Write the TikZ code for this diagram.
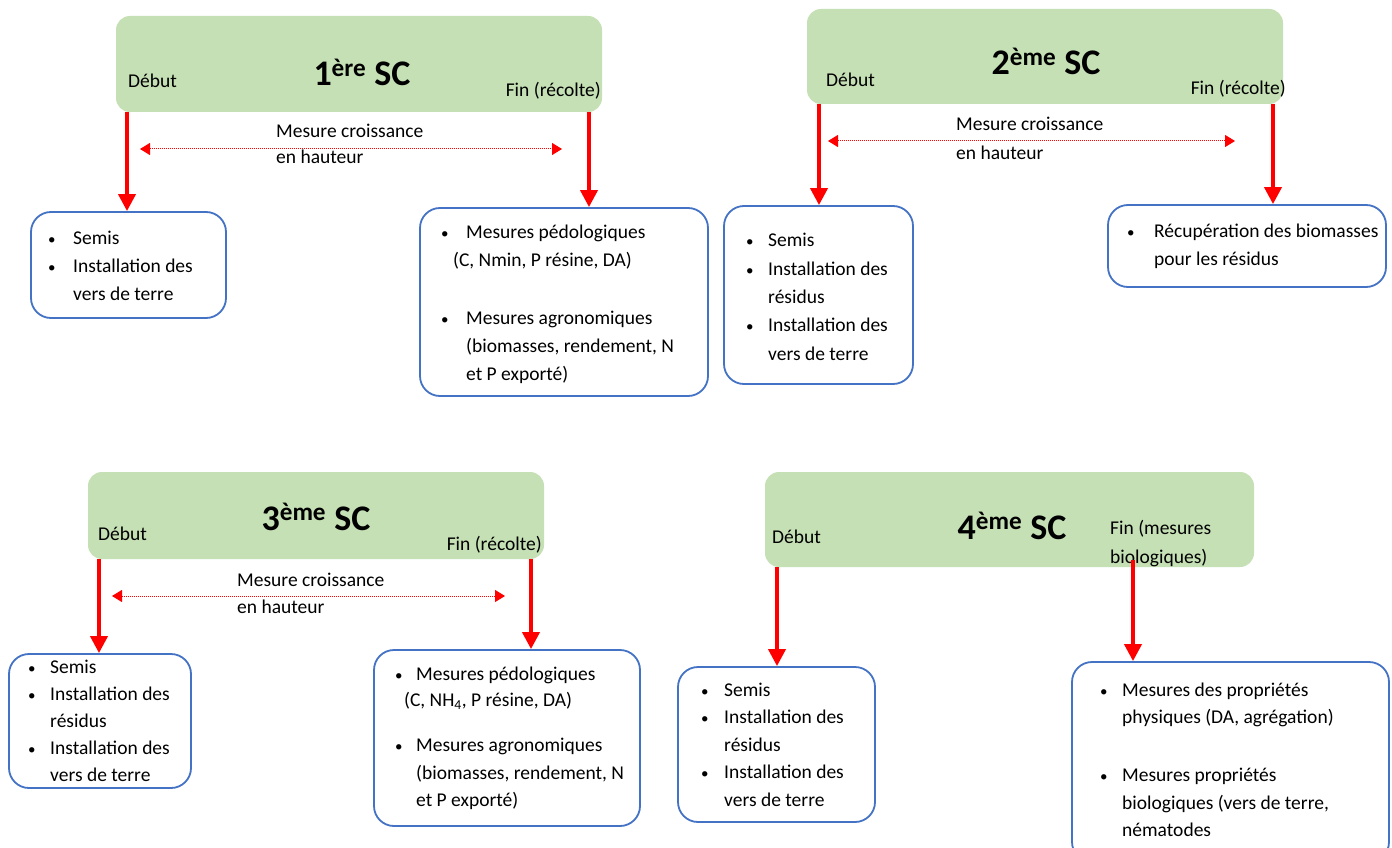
\documentclass[tikz,border=0pt]{standalone}
\usepackage{fontspec}
\setmainfont{Carlito}
\usetikzlibrary{arrows.meta}
\definecolor{sgreen}{HTML}{C5E0B4}
\definecolor{sblue}{HTML}{4472C4}
\definecolor{sred}{HTML}{FF0000}
\tikzset{
  greenbox/.style={fill=sgreen, rounded corners=14pt, inner sep=0pt, draw=none},
  bluebox/.style={draw=sblue, line width=1.8pt, rounded corners=20pt, fill=white, inner sep=0pt},
  redarrow/.style={draw=sred, line width=3.8pt, -{Triangle[width=17pt,length=17pt]}},
  dotarrow/.style={draw=sred, line width=1pt, dash pattern=on 1pt off 1pt, {Triangle[width=12pt,length=10pt]}-{Triangle[width=12pt,length=10pt]}},
  txt/.style={inner sep=0pt, anchor=base west, font=\fontsize{19.5}{23}\selectfont},
  bul/.style={inner sep=0pt, anchor=base west, font=\fontsize{15}{18}\selectfont},
  txte/.style={inner sep=0pt, anchor=base east, font=\fontsize{19.5}{23}\selectfont},
  ttl/.style={inner sep=0pt, anchor=base, font=\fontsize{36}{40}\selectfont\bfseries},
}
\begin{document}
\begin{tikzpicture}[x=1pt,y=-1pt]
\clip (0,0) rectangle (1392,848);
\fill[white] (0,0) rectangle (1392,848);

% ---------- Panel 1 ----------
\node[greenbox, minimum width=486, minimum height=96] (g1) at (359,64) {};
\node[ttl] (t1) at (362,86) {1\textsuperscript{ère} SC};
\node[txt] (d1) at (128,88) {Début};
\node[txte] (f1) at (601,97) {Fin (récolte)};
\node[bluebox, minimum width=195, minimum height=106] (b1) at (128.5,265) {};
\node[bluebox, minimum width=288, minimum height=188] (b2) at (564,302) {};
\coordinate (x1a) at (127,0);
\coordinate (x1b) at (589,0);
\draw[redarrow] (g1.south -| x1a) -- (b1.north -| x1a);
\draw[redarrow] (g1.south -| x1b) -- (b2.north -| x1b);
\coordinate (m1l) at (140,149);
\coordinate (m1r) at (562,149);
\draw[dotarrow] (m1l) -- (m1r);
\node[txt] (m1a) at (276,138) {Mesure croissance};
\node[txt] (m1b) at (276,164) {en hauteur};
\node[bul] (b1p1) at (48,244) {•};
\node[txt] (b1l1) at (73,244) {Semis};
\node[bul] (b1p2) at (48,272) {•};
\node[txt] (b1l2) at (73,272) {Installation des};
\node[txt] (b1l3) at (73,300) {vers de terre};
\node[bul] (b2p1) at (441,238) {•};
\node[txt] (b2l1) at (466,238) {Mesures pédologiques};
\node[txt] (b2l2) at (453,266) {(C, Nmin, P résine, DA)};
\node[bul] (b2p2) at (441,324) {•};
\node[txt] (b2l3) at (466,324) {Mesures agronomiques};
\node[txt] (b2l4) at (466,352) {(biomasses, rendement, N};
\node[txt] (b2l5) at (466,380) {et P exporté)};

% ---------- Panel 2 ----------
\node[greenbox, minimum width=476, minimum height=95] (g2) at (1045,56.5) {};
\node[ttl] (t2) at (1046,75) {2\textsuperscript{ème} SC};
\node[txt] (d2) at (826,87) {Début};
\node[txte] (f2) at (1286,95) {Fin (récolte)};
\node[bluebox, minimum width=189, minimum height=178] (b3) at (818.5,295) {};
\node[bluebox, minimum width=278, minimum height=82] (b4) at (1247,246) {};
\coordinate (x2a) at (819,0);
\coordinate (x2b) at (1273,0);
\draw[redarrow] (g2.south -| x2a) -- (b3.north -| x2a);
\draw[redarrow] (g2.south -| x2b) -- (b4.north -| x2b);
\coordinate (m2l) at (828,141);
\coordinate (m2r) at (1235,141);
\draw[dotarrow] (m2l) -- (m2r);
\node[txt] (m2a) at (956,131) {Mesure croissance};
\node[txt] (m2b) at (956,160) {en hauteur};
\node[bul] (b3p1) at (746,246) {•};
\node[txt] (b3l1) at (768,246) {Semis};
\node[bul] (b3p2) at (746,275) {•};
\node[txt] (b3l2) at (768,275) {Installation des};
\node[txt] (b3l3) at (768,303) {résidus};
\node[bul] (b3p3) at (746,331) {•};
\node[txt] (b3l4) at (768,331) {Installation des};
\node[txt] (b3l5) at (768,360) {vers de terre};
\node[bul] (b4p1) at (1127,237) {•};
\node[txt] (b4l1) at (1154,237) {Récupération des biomasses};
\node[txt] (b4l2) at (1154,265) {pour les résidus};

% ---------- Panel 3 ----------
\node[greenbox, minimum width=456, minimum height=87] (g3) at (316,515.5) {};
\node[ttl] (t3) at (316,530) {3\textsuperscript{ème} SC};
\node[txt] (d3) at (98,540) {Début};
\node[txte] (f3) at (542,550) {Fin (récolte)};
\node[bluebox, minimum width=182, minimum height=134] (b5) at (100,721) {};
\node[bluebox, minimum width=266, minimum height=176] (b6) at (507,738) {};
\coordinate (x3a) at (99,0);
\coordinate (x3b) at (531,0);
\draw[redarrow] (g3.south -| x3a) -- (b5.north -| x3a);
\draw[redarrow] (g3.south -| x3b) -- (b6.north -| x3b);
\coordinate (m3l) at (112,596);
\coordinate (m3r) at (505,596);
\draw[dotarrow] (m3l) -- (m3r);
\node[txt] (m3a) at (237,586) {Mesure croissance};
\node[txt] (m3b) at (237,613) {en hauteur};
\node[bul] (b5p1) at (28,673) {•};
\node[txt] (b5l1) at (50,673) {Semis};
\node[bul] (b5p2) at (28,700) {•};
\node[txt] (b5l2) at (50,700) {Installation des};
\node[txt] (b5l3) at (50,727) {résidus};
\node[bul] (b5p3) at (28,754) {•};
\node[txt] (b5l4) at (50,754) {Installation des};
\node[txt] (b5l5) at (50,781) {vers de terre};
\node[bul] (b6p1) at (395,680) {•};
\node[txt] (b6l1) at (416,680) {Mesures pédologiques};
\node[txt] (b6l2) at (404,706) {(C, NH\textsubscript{4}, P résine, DA)};
\node[bul] (b6p2) at (395,751) {•};
\node[txt] (b6l3) at (416,751) {Mesures agronomiques};
\node[txt] (b6l4) at (416,779) {(biomasses, rendement, N};
\node[txt] (b6l5) at (416,806) {et P exporté)};

% ---------- Panel 4 ----------
\node[greenbox, minimum width=489, minimum height=95] (g4) at (1009.5,519.5) {};
\node[ttl] (t4) at (1012,539) {4\textsuperscript{ème} SC};
\node[txt] (d4) at (772,543) {Début};
\node[txt] (f4a) at (1110,534) {Fin (mesures};
\node[txt] (f4b) at (1110,563) {biologiques)};
\node[bluebox, minimum width=197, minimum height=155] (b7) at (776.5,744.5) {};
\node[bluebox, minimum width=317, minimum height=200] (b8) at (1230.5,762) {};
\coordinate (x4a) at (777,0);
\coordinate (x4b) at (1133,0);
\coordinate (s4b) at (1133,560);
\draw[redarrow] (g4.south -| x4a) -- (b7.north -| x4a);
\draw[redarrow] (s4b) -- (b8.north -| x4b);
\node[bul] (b7p1) at (701,696) {•};
\node[txt] (b7l1) at (724,696) {Semis};
\node[bul] (b7p2) at (701,723) {•};
\node[txt] (b7l2) at (724,723) {Installation des};
\node[txt] (b7l3) at (724,751) {résidus};
\node[bul] (b7p3) at (701,778) {•};
\node[txt] (b7l4) at (724,778) {Installation des};
\node[txt] (b7l5) at (724,806) {vers de terre};
\node[bul] (b8p1) at (1100,696) {•};
\node[txt] (b8l1) at (1122,696) {Mesures des propriétés};
\node[txt] (b8l2) at (1122,723) {physiques (DA, agrégation)};
\node[bul] (b8p2) at (1100,781) {•};
\node[txt] (b8l3) at (1122,781) {Mesures propriétés};
\node[txt] (b8l4) at (1122,809) {biologiques (vers de terre,};
\node[txt] (b8l5) at (1122,836) {nématodes};
\end{tikzpicture}
\end{document}
